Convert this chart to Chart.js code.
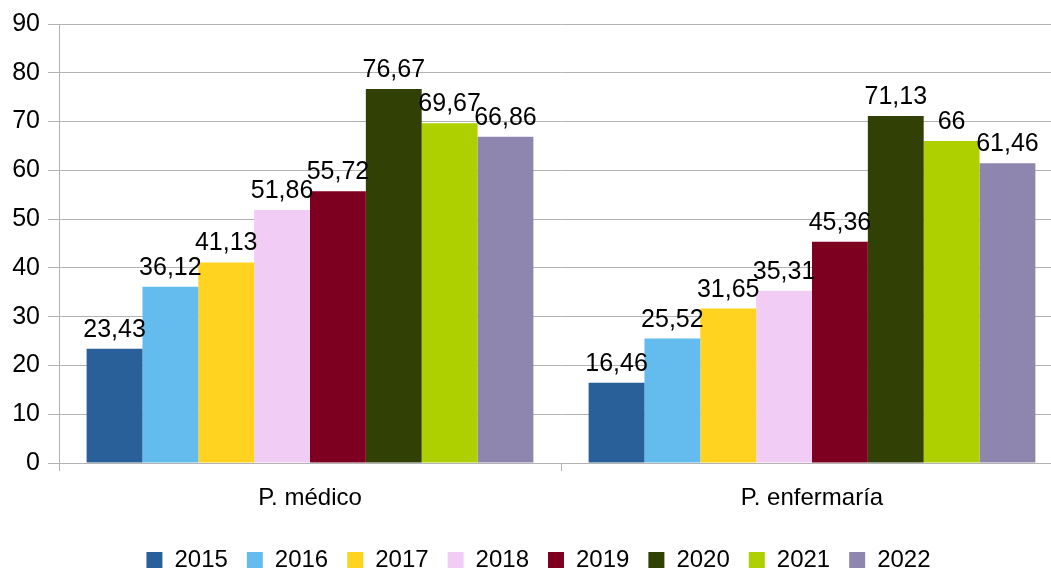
<!DOCTYPE html>
<html>
<head>
<meta charset="utf-8">
<script src="https://cdn.jsdelivr.net/npm/chart.js@4/dist/chart.umd.min.js"></script>
<style>
  html, body { margin: 0; padding: 0; background: #fff; overflow: hidden; }
  #wrap { width: 1063px; height: 569px; }
</style>
</head>
<body>
<div id="wrap"><canvas id="chart" width="1063" height="569"></canvas></div>
<script>
const categories = ['P. médico', 'P. enfermaría'];
const years = ['2015', '2016', '2017', '2018', '2019', '2020', '2021', '2022'];
const values2015 = [23.43, 16.46];
const values2016 = [36.12, 25.52];
const values2017 = [41.13, 31.65];
const values2018 = [51.86, 35.31];
const values2019 = [55.72, 45.36];
const values2020 = [76.67, 71.13];
const values2021 = [69.67, 66];
const values2022 = [66.86, 61.46];
const yTicks = [0, 10, 20, 30, 40, 50, 60, 70, 80, 90];

const seriesValues = [values2015, values2016, values2017, values2018, values2019, values2020, values2021, values2022];
const colors = ['#2a6099', '#63bbee', '#ffd320', '#f1cdf6', '#7e0021', '#314004', '#aecf00', '#8e86ae'];

const FONT = 'Liberation Sans, Arial, sans-serif';
const gridColor = '#b3b3b3';

// labels above bars, comma as decimal separator
const barLabels = {
    id: 'barLabels',
    afterDatasetsDraw(chart) {
        const ctx = chart.ctx;
        ctx.save();
        ctx.font = '25px ' + FONT;
        ctx.fillStyle = '#000';
        ctx.textAlign = 'center';
        ctx.textBaseline = 'alphabetic';
        chart.data.datasets.forEach((ds, i) => {
            chart.getDatasetMeta(i).data.forEach((bar, j) => {
                const txt = String(ds.data[j]).replace('.', ',');
                ctx.fillText(txt, bar.x, bar.y - 12);
            });
        });
        ctx.restore();
    }
};

// fixed legend height, nudged a little to the right
const legendFit = {
    id: 'legendFit',
    beforeInit(chart) {
        const lg = chart.legend;
        const fit = lg.fit;
        lg.fit = function () {
            fit.call(this);
            this.height = 40;
        };
        const draw = lg.draw;
        lg.draw = function () {
            this.left += 7; this.right += 7;
            draw.call(this);
            this.left -= 7; this.right -= 7;
        };
    }
};

new Chart(document.getElementById('chart'), {
    type: 'bar',
    data: {
        labels: categories,
        datasets: years.map((y, i) => ({
            label: y,
            data: seriesValues[i],
            backgroundColor: colors[i],
            borderWidth: 0,
            barPercentage: 1.0,
            categoryPercentage: 0.89
        }))
    },
    options: {
        responsive: false,
        animation: false,
        layout: { padding: { top: 24, right: 0, left: 0, bottom: 0 } },
        scales: {
            y: {
                min: 0, max: 90,
                afterBuildTicks: (scale) => { scale.ticks = yTicks.map(v => ({ value: v })); },
                afterFit: (scale) => { scale.width = 59; },
                grid: { color: gridColor, tickLength: 11 },
                border: { color: gridColor },
                ticks: { color: '#000', padding: 8, font: { family: FONT, size: 25 } }
            },
            x: {
                afterFit: (scale) => { scale.height = 66; },
                grid: { color: gridColor, drawOnChartArea: false, tickLength: 8, offset: true },
                border: { color: gridColor },
                ticks: { color: '#000', padding: 13, font: { family: FONT, size: 24 } }
            }
        },
        plugins: {
            legend: {
                position: 'bottom',
                labels: {
                    color: '#000',
                    boxWidth: 16,
                    boxHeight: 16,
                    padding: 19,
                    font: { family: FONT, size: 24 }
                }
            },
            tooltip: { enabled: false }
        }
    },
    plugins: [barLabels, legendFit]
});
</script>
</body>
</html>
